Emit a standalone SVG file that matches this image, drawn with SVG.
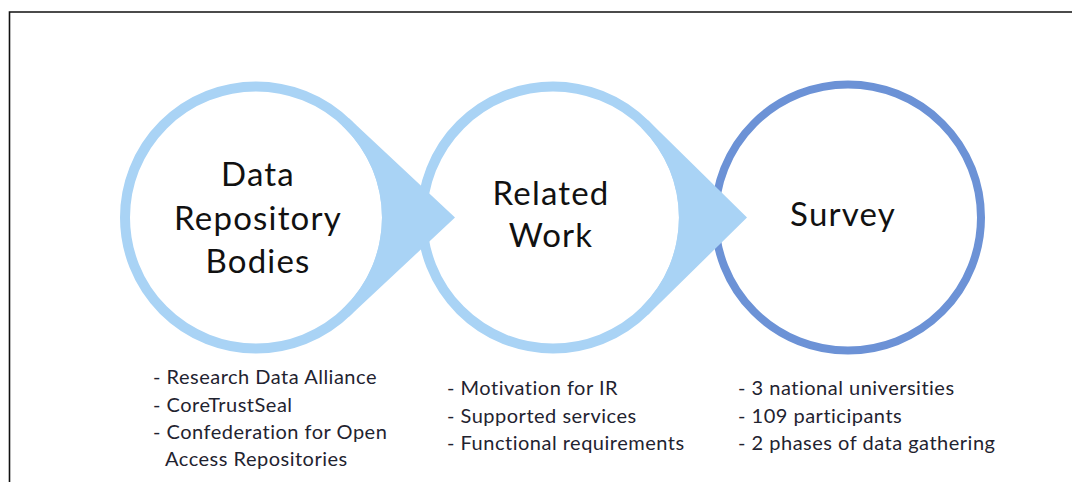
<svg xmlns="http://www.w3.org/2000/svg" width="1072" height="482" viewBox="0 0 1072 482">
  <style>
    .ring-light { fill: #ffffff; stroke: #a9d3f5; stroke-width: 10; }
    .ring-dark { fill: #ffffff; stroke: #6c92d6; stroke-width: 8; }
    .arrow { fill: #a9d3f5; stroke: none; }
    .title { font-family: Lato, "Open Sans", sans-serif; font-size: 33px; letter-spacing: 1.2px; fill: #111111; text-anchor: middle; }
    .item { font-family: Lato, "Open Sans", sans-serif; font-size: 20px; letter-spacing: 0.5px; fill: #1f2330; }
  </style>

  <!-- page frame: top and left edges -->
  <rect x="0" y="0" width="1072" height="482" fill="#ffffff"/>
  <path d="M9.5 482 V12 H1072" fill="none" stroke="#111111" stroke-width="1.6"/>

  <!-- drawn back to front so each arrow overlaps the next ring -->
  <g id="node-survey">
    <circle class="ring-dark" cx="848" cy="217.5" r="133"/>
    <text class="title" x="843" y="226">Survey</text>
  </g>

  <g id="node-related-work">
    <circle class="ring-light" cx="553" cy="217.5" r="131"/>
    <text class="title" x="551" y="205">Related</text>
    <text class="title" x="551" y="247">Work</text>
  </g>

  <g id="node-data-repository-bodies">
    <circle class="ring-light" cx="256" cy="217.5" r="131"/>
    <text class="title" x="258" y="186">Data</text>
    <text class="title" x="258" y="229.5">Repository</text>
    <text class="title" x="258" y="273">Bodies</text>
  </g>

  <!-- tapering arrows from each ring to the next -->
  <g id="connectors">
    <path class="arrow" d="M348.9 118.2 L455 217.5 L348.9 316.8 L342.1 309.5 A126 126 0 0 0 342.1 125.5 Z"/>
    <path class="arrow" d="M648.3 120.5 L747 217.5 L648.3 314.5 L641.3 307.3 A126 126 0 0 0 641.3 127.7 Z"/>
  </g>

  <!-- bullet lists under each stage -->
  <g id="list-data-repository-bodies" class="item" xml:space="preserve">
    <text x="153" y="384">- Research  Data Alliance</text>
    <text x="153" y="411.5">- CoreTrustSeal</text>
    <text x="153" y="439">- Confederation  for Open</text>
    <text x="165" y="466">Access Repositories</text>
  </g>
  <g id="list-related-work" class="item">
    <text x="447" y="395">- Motivation for IR</text>
    <text x="447" y="422.5">- Supported services</text>
    <text x="447" y="450">- Functional requirements</text>
  </g>
  <g id="list-survey" class="item" xml:space="preserve">
    <text x="738" y="395">- 3 national universities</text>
    <text x="738" y="422.5">- 109 participants</text>
    <text x="738" y="450">- 2 phases  of data gathering</text>
  </g>
</svg>
